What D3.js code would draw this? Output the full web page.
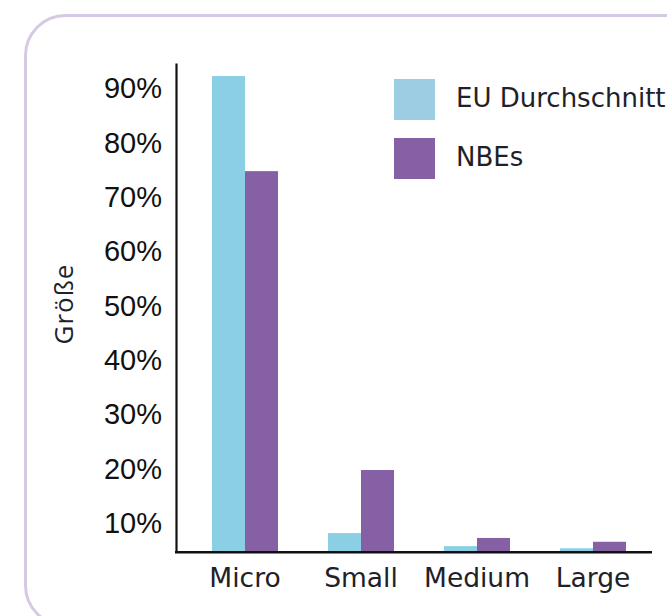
<!DOCTYPE html>
<html>
<head>
<meta charset="utf-8">
<script src="https://cdn.jsdelivr.net/npm/d3@7"></script>
<style>
  html, body { margin: 0; padding: 0; background: #ffffff; }
  svg { display: block; }
</style>
</head>
<body>
<svg id="chart" width="667" height="616"></svg>
<script>
const categories = ["Micro", "Small", "Medium", "Large"];
const seriesNames = ["EU Durchschnitt", "NBEs"];
const euValues = [92.1, 8.0, 5.6, 5.2];
const nbeValues = [74.6, 19.6, 7.1, 6.4];
const tickValues = [10, 20, 30, 40, 50, 60, 70, 80, 90];
const yLabel = "Größe";

const svg = d3.select("#chart");

// card border
svg.append("rect")
  .attr("x", 25.5).attr("y", 15.5)
  .attr("width", 690).attr("height", 610)
  .attr("rx", 40).attr("ry", 40)
  .attr("fill", "#ffffff")
  .attr("stroke", "#d6c9e4")
  .attr("stroke-width", 3);

const axisX = 176;
const baseY = 551;

const y = d3.scaleLinear().domain([4.7, 94.5]).range([baseY, 63]);
const x = d3.scaleBand().domain(categories).range([187, 651])
  .paddingInner(0.431).paddingOuter(0.2155);
const xs = d3.scaleBand().domain(seriesNames).range([0, x.bandwidth()]);
const colors = d3.scaleOrdinal().domain(seriesNames).range(["#8bcfe4", "#8660a5"]);
const legendColors = d3.scaleOrdinal().domain(seriesNames).range(["#9ccde3", "#8660a5"]);

const data = categories.map((c, i) => ({cat: c, values: [
  {s: seriesNames[0], v: euValues[i]},
  {s: seriesNames[1], v: nbeValues[i]}
]}));

// bars
const g = svg.append("g");
g.selectAll("g.cat").data(data).join("g")
  .attr("class", "cat")
  .attr("transform", d => `translate(${x(d.cat)},0)`)
  .selectAll("rect").data(d => d.values).join("rect")
  .attr("x", d => xs(d.s))
  .attr("width", xs.bandwidth())
  .attr("y", d => y(d.v))
  .attr("height", d => y(y.domain()[0]) - y(d.v))
  .attr("fill", d => colors(d.s));

// y axis
const yAxis = svg.append("g")
  .attr("transform", `translate(${axisX},0)`)
  .call(d3.axisLeft(y).tickValues(tickValues).tickSize(0).tickPadding(14).tickFormat(d => d + "%"));
yAxis.select(".domain").attr("stroke", "#111").attr("stroke-width", 2.2);
yAxis.selectAll("text")
  .attr("font-family", "'Liberation Sans', Arial, sans-serif")
  .attr("font-size", 29)
  .attr("fill", "#111")
  .attr("dy", "0.36em");

// x axis
const xAxis = svg.append("g")
  .attr("transform", `translate(0,${baseY})`)
  .call(d3.axisBottom(x).tickSize(0).tickPadding(17));
xAxis.select(".domain").remove();
xAxis.append("line")
  .attr("x1", axisX - 1).attr("x2", 652)
  .attr("y1", 1.2).attr("y2", 1.2)
  .attr("stroke", "#111").attr("stroke-width", 2.6);
xAxis.selectAll("text")
  .attr("font-family", "'DejaVu Sans', sans-serif")
  .attr("font-size", 26.5)
  .attr("fill", "#1e2228");

// y label
svg.append("text")
  .attr("transform", "translate(73,304) rotate(-90)")
  .attr("text-anchor", "middle")
  .attr("font-family", "'Open Sans', sans-serif")
  .attr("font-size", 26)
  .attr("letter-spacing", 1)
  .attr("fill", "#1e2228")
  .text(yLabel);

// legend
const legend = svg.append("g").attr("transform", "translate(394,79)");
const li = legend.selectAll("g").data(seriesNames).join("g")
  .attr("transform", (d, i) => `translate(0,${i * 59})`);
li.append("rect").attr("width", 41).attr("height", 41).attr("fill", d => legendColors(d));
li.append("text")
  .attr("x", 62).attr("y", 28)
  .attr("font-family", "'DejaVu Sans', sans-serif")
  .attr("font-size", 26)
  .attr("fill", "#1e2228")
  .text(d => d);
</script>
</body>
</html>
